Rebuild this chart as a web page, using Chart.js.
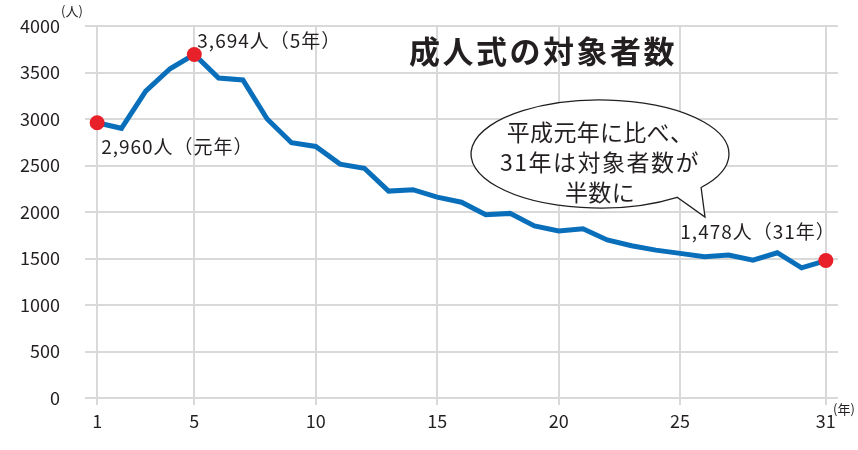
<!DOCTYPE html>
<html>
<head>
<meta charset="utf-8">
<script src="https://cdn.jsdelivr.net/npm/chart.js@4"></script>
<style>
  html, body { margin: 0; padding: 0; background: #fff; }
  #wrap { width: 858px; height: 450px; }
</style>
</head>
<body>
<div id="wrap"><canvas id="myChart" width="858" height="450"></canvas></div>
<script>
// 平成1年〜31年 成人式の対象者数
const years = [1,2,3,4,5,6,7,8,9,10,11,12,13,14,15,16,17,18,19,20,21,22,23,24,25,26,27,28,29,30,31];
const people = [2960,2900,3300,3540,3694,3440,3420,3000,2745,2705,2515,2470,2225,2240,2160,2105,
                1970,1985,1850,1795,1820,1700,1637,1590,1555,1520,1537,1483,1562,1400,1478];
const xTicks = [1,5,10,15,20,25,31];
const highlight = [1,5,31];
const labels = {1: '2,960人（元年）', 5: '3,694人（5年）', 31: '1,478人（31年）'};
const bubbleLines = ['平成元年に比べ、', '31年は対象者数が', '半数に'];

const FONT = "'Noto Sans CJK JP', 'Noto Sans', sans-serif";
const TXT = '#231f20';

let points = years.map((y, i) => ({x: y, y: people[i]}));

const extras = {
  id: 'extras',
  afterDatasetsDraw(chart) {
    const c = chart.ctx;
    const xs = chart.scales.x, ys = chart.scales.y;
    c.save();
    c.fillStyle = TXT;
    c.textBaseline = 'middle';

    // title
    c.font = 'bold 31px ' + FONT;
    c.letterSpacing = '2.5px';
    c.textAlign = 'center';
    c.fillText('成人式の対象者数', 543, 51);
    c.letterSpacing = '0px';

    // units
    c.font = '13px ' + FONT;
    c.textAlign = 'left';
    c.fillText('(人)', 61, 11);
    c.fillText('(年)', 833, 409);

    // point labels
    c.font = '19px ' + FONT;
    c.letterSpacing = '1px';
    let p1 = {x: xs.getPixelForValue(1), y: ys.getPixelForValue(people[0])};
    c.fillText(labels[1], p1.x + 4, p1.y + 24);
    let p5 = {x: xs.getPixelForValue(5), y: ys.getPixelForValue(people[4])};
    c.fillText(labels[5], p5.x + 3, p5.y - 14);
    let p31 = {x: xs.getPixelForValue(31), y: ys.getPixelForValue(people[30])};
    c.textAlign = 'right';
    c.fillText(labels[31], p31.x + 10, p31.y - 29);
    c.letterSpacing = '0px';

    // speech bubble
    const cx = 600, cy = 154, rx = 129, ry = 54;
    const a1 = 0.67, a2 = 0.93;
    const tip = {x: 705, y: 217};
    c.beginPath();
    c.ellipse(cx, cy, rx, ry, 0, a2, a1 + Math.PI * 2);
    c.lineTo(tip.x, tip.y);
    c.closePath();
    c.fillStyle = '#fff';
    c.fill();
    c.lineWidth = 1.3;
    c.strokeStyle = '#231f20';
    c.stroke();

    c.fillStyle = TXT;
    c.font = '23px ' + FONT;
    c.textAlign = 'center';
    bubbleLines.forEach((t, i) => {
      c.letterSpacing = i == 1 ? '1.5px' : '0.3px';
      c.fillText(t, cx, 132 + i * 30);
    });
    c.restore();
  }
};

const ctx = document.getElementById('myChart');

new Chart(ctx, {
  type: 'line',
  data: {
    datasets: [{
      data: points,
      borderColor: '#0a6fbb',
      borderWidth: 5,
      tension: 0,
      pointRadius: (p) => highlight.includes(years[p.dataIndex]) ? 7.5 : 0,
      pointBackgroundColor: '#e8202a',
      pointBorderWidth: 0,
      pointHoverRadius: 0,
    }]
  },
  options: {
    responsive: false,
    animation: false,
    events: [],
    layout: { padding: { top: 26, right: 20, left: 0, bottom: 0 } },
    plugins: {
      legend: { display: false },
      tooltip: { enabled: false },
    },
    scales: {
      x: {
        type: 'linear',
        min: 0.5,
        max: 31.5,
        afterBuildTicks: (s) => { s.ticks = xTicks.map(v => ({value: v})); },
        afterFit: (s) => { s.height = 52; },
        grid: { color: '#d9d9d9', lineWidth: 2, tickLength: 7 },
        border: { display: false },
        ticks: {
          color: TXT,
          font: { family: FONT, size: 18 },
          padding: 5,
          maxRotation: 0,
          autoSkip: false,
        }
      },
      y: {
        min: 0,
        max: 4000,
        afterFit: (s) => { s.width = 85; },
        grid: { color: '#d9d9d9', lineWidth: 2, drawTicks: true, tickLength: 22, tickColor: 'rgba(0,0,0,0)' },
        border: { display: false },
        ticks: {
          stepSize: 500,
          color: TXT,
          font: { family: FONT, size: 18 },
          padding: 3,
          callback: (v) => String(v),
        }
      }
    }
  },
  plugins: [extras]
});
</script>
</body>
</html>
